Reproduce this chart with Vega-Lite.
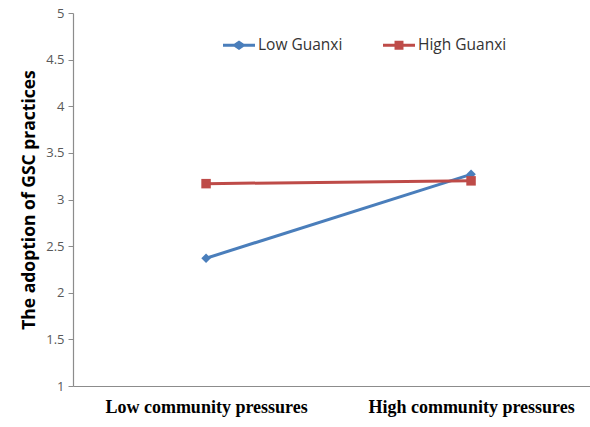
{
  "$schema": "https://vega.github.io/schema/vega-lite/v6.json",
  "width": 517,
  "height": 373,
  "autosize": {"type": "none"},
  "padding": {"left": 73, "top": 13, "right": 0, "bottom": 41},
  "background": "white",
  "config": {"view": {"stroke": null}},
  "data": {"values": [
    {"pressure": "Low community pressures", "guanxi": "Low Guanxi", "value": 2.37},
    {"pressure": "High community pressures", "guanxi": "Low Guanxi", "value": 3.27},
    {"pressure": "Low community pressures", "guanxi": "High Guanxi", "value": 3.17},
    {"pressure": "High community pressures", "guanxi": "High Guanxi", "value": 3.2}
  ]},
  "encoding": {
    "x": {
      "field": "pressure", "type": "nominal", "sort": ["Low community pressures", "High community pressures"],
      "scale": {"type": "point", "padding": 0.4755, "align": 0.528},
      "axis": {"title": null, "labelAngle": 0, "labelLimit": 0, "ticks": false, "labelPadding": 12, "labelFont": "Liberation Serif", "labelFontSize": 18, "labelFontWeight": "bold", "labelColor": "#000000", "domainColor": "#8c8c8c", "domainWidth": 1.2, "grid": false}
    },
    "y": {
      "field": "value", "type": "quantitative",
      "scale": {"domain": [1, 5], "nice": false, "zero": false},
      "axis": {"title": "The adoption of GSC practices", "values": [1, 1.5, 2, 2.5, 3, 3.5, 4, 4.5, 5], "format": "~g", "grid": false, "tickSize": 5, "tickColor": "#8c8c8c", "domainColor": "#8c8c8c", "domainWidth": 1.2, "labelFont": "Open Sans", "labelFontSize": 13, "labelColor": "#595959", "labelPadding": 4, "titleFont": "Open Sans", "titleFontSize": 17.5, "titleFontWeight": "bold", "titleColor": "#000000", "titlePadding": 7}
    },
    "color": {
      "field": "guanxi", "type": "nominal", "sort": ["Low Guanxi", "High Guanxi"],
      "scale": {"domain": ["Low Guanxi", "High Guanxi"], "range": ["#4A7EBB", "#BE4B48"]},
      "legend": {
        "title": null, "orient": "none", "direction": "horizontal", "columns": 2,
        "legendX": 150, "legendY": 16, "columnPadding": 40,
        "symbolSize": 1024, "symbolStrokeWidth": 0, "symbolOpacity": 1,
        "labelFont": "Open Sans", "labelFontSize": 15.5, "labelColor": "#333333", "labelOffset": 3,
        "encode": {"symbols": {"update": {
          "shape": {"signal": "datum.value === 'Low Guanxi' ? 'M-1,-0.09H-0.3L0,-0.3L0.3,-0.09H1V0.09H0.3L0,0.3L-0.3,0.09H-1Z' : 'M-1,-0.09H-0.28V-0.28H0.28V-0.09H1V0.09H0.28V0.28H-0.28V0.09H-1Z'"},
          "fill": {"signal": "datum.value === 'Low Guanxi' ? '#4A7EBB' : '#BE4B48'"},
          "strokeWidth": {"value": 0}
        }}}
      }
    }
  },
  "layer": [
    {
      "mark": {"type": "line", "strokeWidth": 3},
      "encoding": {"detail": {"field": "guanxi"}}
    },
    {
      "transform": [{"filter": "datum.guanxi === 'Low Guanxi'"}],
      "mark": {"type": "point", "filled": true, "opacity": 1, "size": 90, "shape": "diamond"}
    },
    {
      "transform": [{"filter": "datum.guanxi === 'High Guanxi'"}],
      "mark": {"type": "point", "filled": true, "opacity": 1, "size": 90, "shape": "square"}
    }
  ]
}
